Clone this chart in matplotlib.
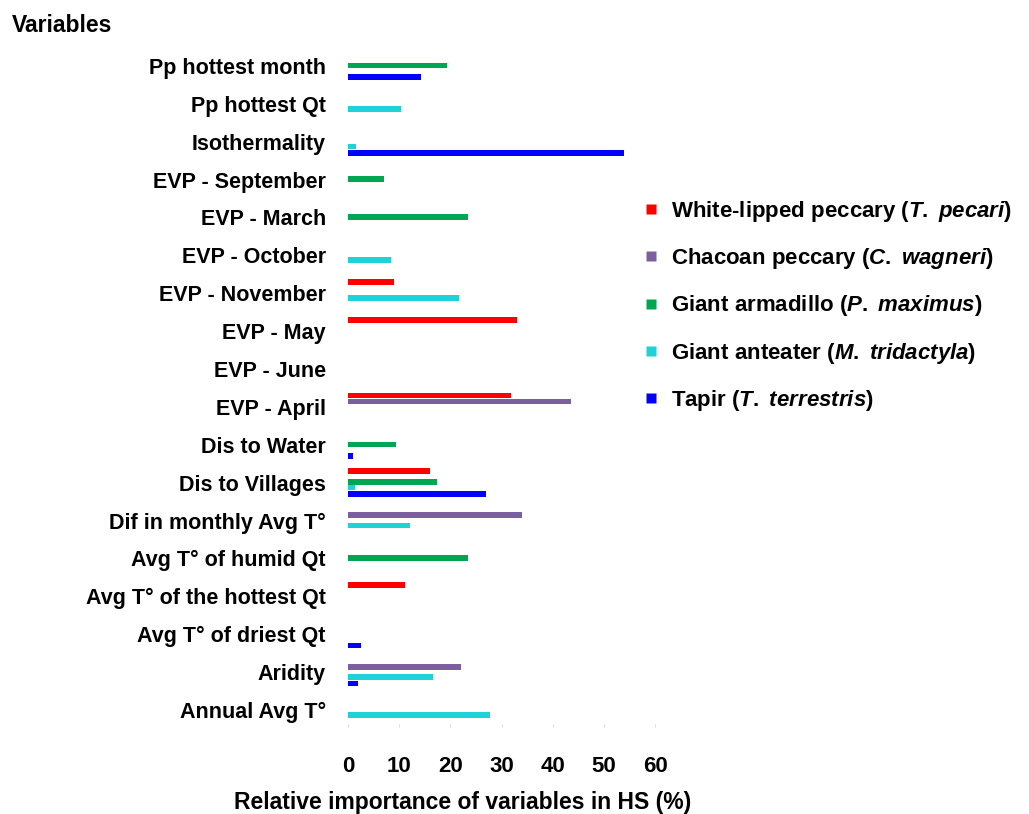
import matplotlib
matplotlib.use("Agg")
import matplotlib.pyplot as plt
from matplotlib.lines import Line2D
import numpy as np

plt.rcParams['font.family'] = ['Liberation Sans', 'DejaVu Sans']
plt.rcParams['font.weight'] = 'bold'
plt.rcParams['mathtext.fontset'] = 'custom'
plt.rcParams['mathtext.it'] = 'Liberation Sans:italic:bold'
plt.rcParams['mathtext.rm'] = 'Liberation Sans:bold'

variables = ["Pp hottest month", "Pp hottest Qt", "Isothermality", "EVP - September",
             "EVP - March", "EVP - October", "EVP - November", "EVP - May", "EVP - June",
             "EVP - April", "Dis to Water", "Dis to Villages", "Dif in monthly Avg T°",
             "Avg T° of humid Qt", "Avg T° of the hottest Qt", "Avg T° of driest Qt",
             "Aridity", "Annual Avg T°"]

white_lipped = [0, 0, 0, 0, 0, 0, 9.0, 33.0, 0, 31.9, 0, 16.1, 0, 0, 11.1, 0, 0, 0]
chacoan      = [0, 0, 0, 0, 0, 0, 0, 0, 0, 43.5, 0, 0, 34.0, 0, 0, 0, 22.0, 0]
armadillo    = [19.4, 0, 0, 7.1, 23.4, 0, 0, 0, 0, 0, 9.4, 17.3, 0, 23.5, 0, 0, 0, 0]
anteater     = [0, 10.3, 1.6, 0, 0, 8.4, 21.6, 0, 0, 0, 0, 1.4, 12.2, 0, 0, 0, 16.7, 27.8]
tapir        = [14.3, 0, 54.0, 0, 0, 0, 0, 0, 0, 0, 1.0, 27.0, 0, 0, 0, 2.6, 2.0, 0]

xticks = [0, 10, 20, 30, 40, 50, 60]

series = [
    (white_lipped, "#ff0000", "White-lipped peccary ($\\mathit{T.}$ $\\mathit{pecari}$)", -0.30),
    (chacoan, "#7b5fa0", "Chacoan peccary ($\\mathit{C.}$ $\\mathit{wagneri}$)", -0.14),
    (armadillo, "#00a651", "Giant armadillo ($\\mathit{P.}$ $\\mathit{maximus}$)", -0.01),
    (anteater, "#1ed3d8", "Giant anteater ($\\mathit{M.}$ $\\mathit{tridactyla}$)", 0.13),
    (tapir, "#0000ff", "Tapir ($\\mathit{T.}$ $\\mathit{terrestris}$)", 0.30),
]

fig = plt.figure(figsize=(10.29, 8.14), dpi=100)
ax = fig.add_axes([348/1029, 1-724/814, (655-348)/1029, (724-28)/814])

y = np.arange(len(variables))
handles = []
for vals, col, lab, off in series:
    v = np.array(vals, dtype=float)
    mask = v > 0
    ax.barh(y[mask] + off, v[mask], height=0.15, color=col, edgecolor='none')
    handles.append(Line2D([], [], marker='s', linestyle='none', markersize=7,
                          markerfacecolor=col, markeredgecolor='none', label=lab))

ax.set_xlim(0, 60)
ax.set_ylim(17.37, -1)
ax.set_yticks(y)
ax.set_yticklabels(variables, fontsize=15.5, fontweight='bold')
ax.tick_params(axis='y', length=0, pad=16)
ax.set_xticks(xticks)
ax.set_xticklabels([str(t) for t in xticks], fontsize=16, fontweight='bold')
ax.tick_params(axis='x', length=2, color='#dddddd', pad=21)
for s in ax.spines.values():
    s.set_visible(False)

fig.text(463/1029, 1-802/814, "Relative importance of variables in HS (%)", fontsize=16.5,
         fontweight='bold', ha='center', va='center')
fig.text(12/1029, 1-25/814, "Variables", fontsize=16.5, fontweight='bold',
         ha='left', va='center')

fig.legend(handles=handles, loc='upper left', bbox_to_anchor=(634/1029, 1-190/814),
           frameon=False, fontsize=16, labelspacing=1.0, handlelength=0.7,
           handletextpad=0.55, borderaxespad=0)

fig.savefig("out.png", dpi=100)
